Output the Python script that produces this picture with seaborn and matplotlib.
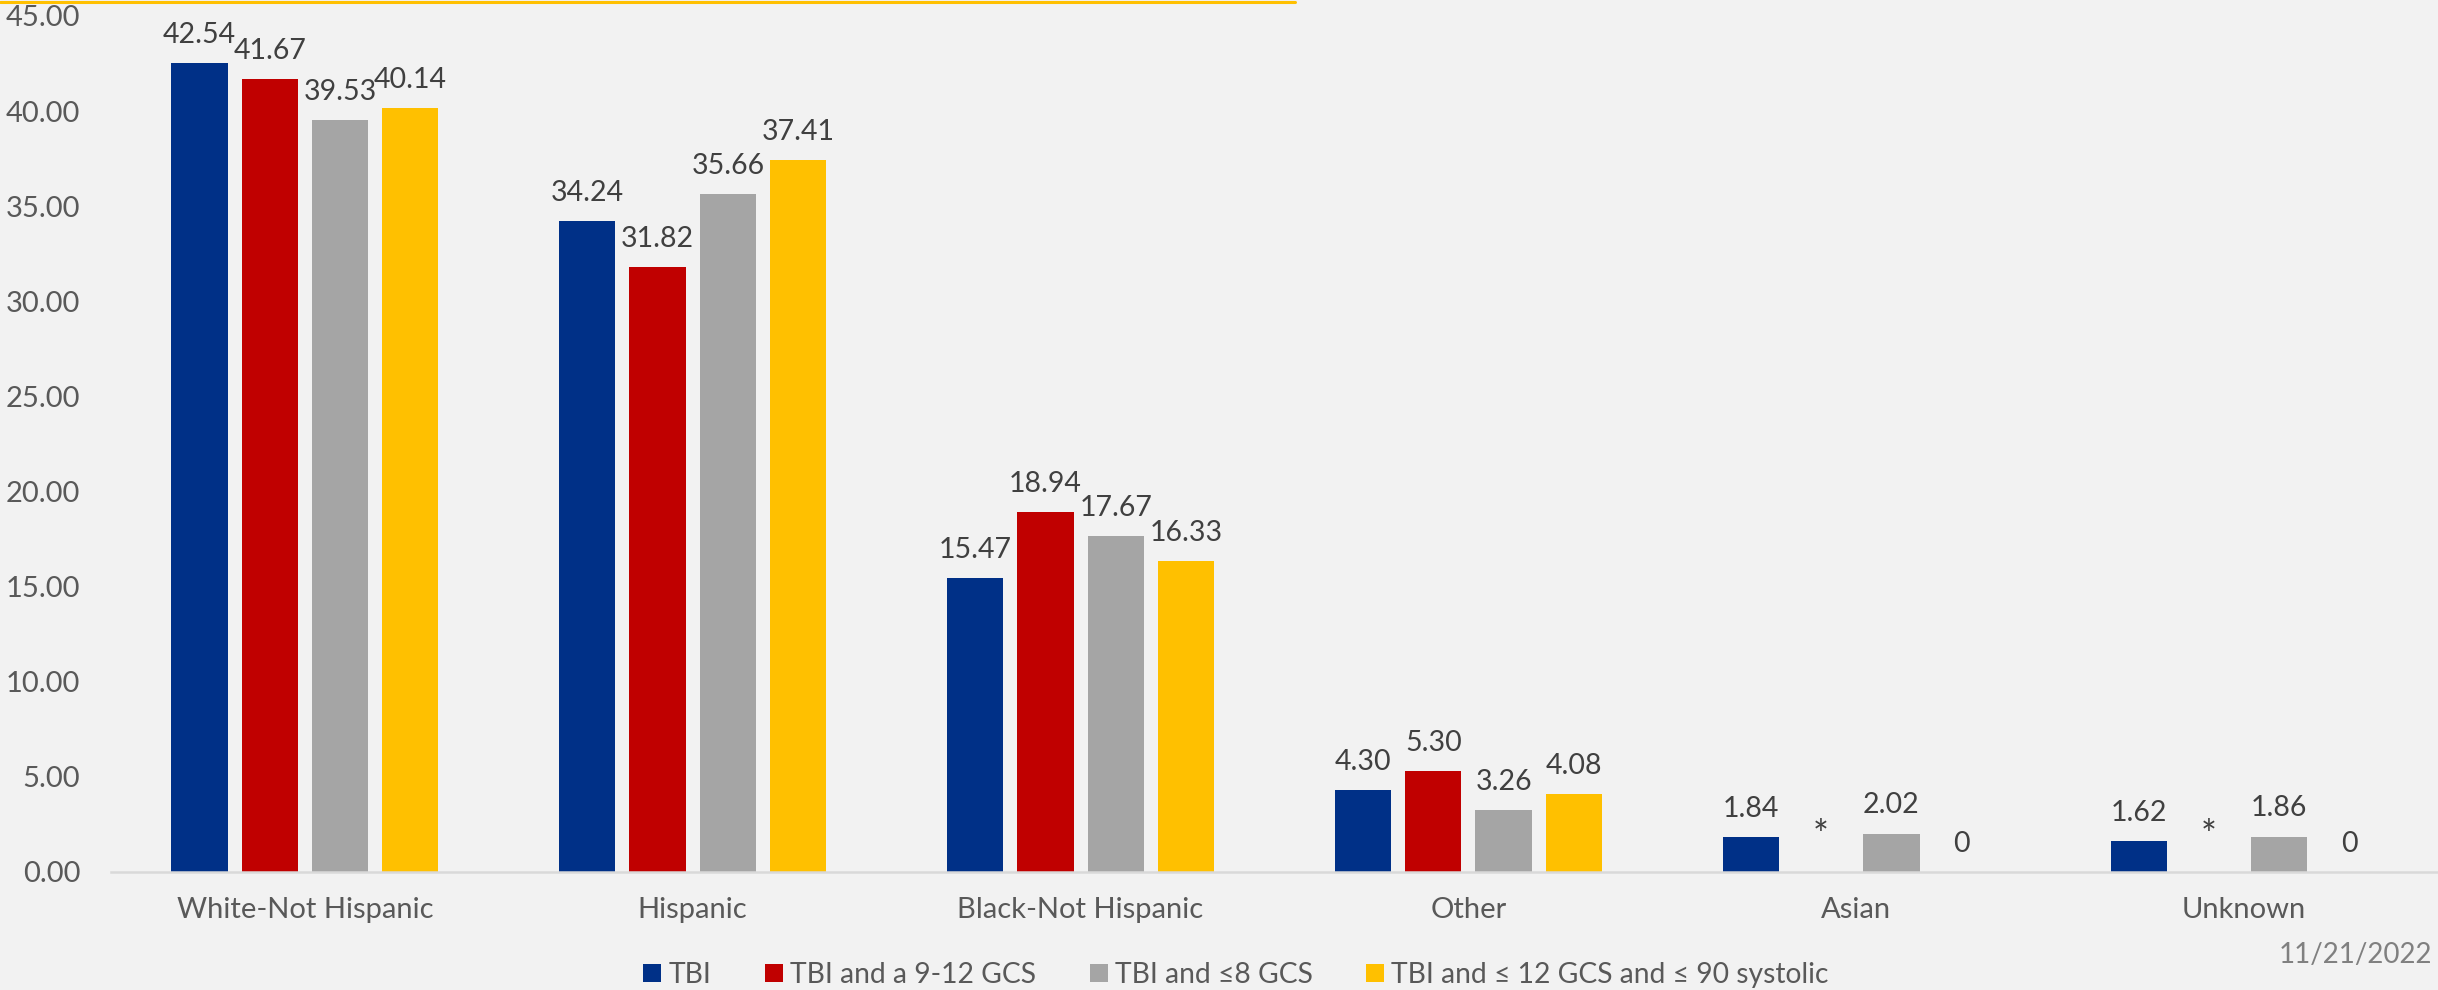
import matplotlib
matplotlib.use('Agg')
import matplotlib.pyplot as plt
from matplotlib.ticker import FormatStrFormatter, MultipleLocator
from matplotlib.lines import Line2D
import seaborn as sns
import pandas as pd

groups = ['White-Not Hispanic', 'Hispanic', 'Black-Not Hispanic', 'Other', 'Asian', 'Unknown']
series = ['TBI', 'TBI and a 9-12 GCS', 'TBI and \u22648 GCS', 'TBI and \u2264 12 GCS and \u2264 90 systolic']
tbi = [42.54, 34.24, 15.47, 4.30, 1.84, 1.62]
tbi_gcs_9_12 = [41.67, 31.82, 18.94, 5.30, None, None]  # suppressed -> "*"
tbi_gcs_8 = [39.53, 35.66, 17.67, 3.26, 2.02, 1.86]
tbi_gcs_sys = [40.14, 37.41, 16.33, 4.08, 0, 0]
colors = ['#003087', '#C00000', '#A5A5A5', '#FFC000']
date_text = '11/21/2022'

bg = '#F2F2F2'
sns.set_style('white', {'axes.facecolor': bg, 'figure.facecolor': bg})
plt.rcParams['font.family'] = ['Lato', 'DejaVu Sans']

rows = []
for name, vals in zip(series, [tbi, tbi_gcs_9_12, tbi_gcs_8, tbi_gcs_sys]):
    for g, v in zip(groups, vals):
        rows.append({'group': g, 'series': name, 'value': 0 if v is None else v,
                     'label': '*' if v is None else ('0' if v == 0 else '%.2f' % v)})
df = pd.DataFrame(rows)

fig = plt.figure(figsize=(24.38, 9.9), dpi=100)
ax = fig.add_axes([111 / 2438, 1 - 872 / 990, 1 - 111 / 2438, (872 - 16) / 990])

sns.barplot(data=df, x='group', y='value', hue='series', order=groups, hue_order=series,
            palette=colors, saturation=1, width=0.725, gap=0.2, linewidth=0,
            errorbar=None, ax=ax)

# data labels
for cont, name in zip(ax.containers, series):
    labs = df[df['series'] == name]['label'].tolist()
    for bar, lab in zip(cont.patches, labs):
        ax.annotate(lab, (bar.get_x() + bar.get_width() / 2, bar.get_height()),
                    xytext=(0, 14.5 if lab != '*' else 17), textcoords='offset points',
                    ha='center', va='baseline',
                    fontsize=20.5 if lab != '*' else 27, color='#404040')

ax.set_ylim(0, 45)
ax.set_xlim(-0.5, len(groups) - 0.5)
ax.yaxis.set_major_locator(MultipleLocator(5))
ax.yaxis.set_major_formatter(FormatStrFormatter('%.2f'))
ax.set_xlabel('')
ax.set_ylabel('')
ax.tick_params(axis='both', length=0, labelsize=21, labelcolor='#595959')
ax.tick_params(axis='y', pad=22)
ax.tick_params(axis='x', pad=18)
for s in ['top', 'right', 'left']:
    ax.spines[s].set_visible(False)
ax.spines['bottom'].set_color('#D9D9D9')
ax.spines['bottom'].set_linewidth(1.8)

handles, labels = ax.get_legend_handles_labels()
ax.get_legend().remove()
fig.legend(handles, labels, loc='center', bbox_to_anchor=(1236 / 2438, 1 - 975 / 990), ncol=4,
           frameon=False, fontsize=20.3, labelcolor='#595959', handlelength=0.64, handleheight=0.64,
           handletextpad=0.25, columnspacing=1.9, borderpad=0)

fig.text(2432 / 2438, 1 - 955 / 990, date_text, ha='right', va='center', fontsize=20, color='#808080')

fig.add_artist(Line2D([0, 1295 / 2438], [1 - 1.5 / 990, 1 - 1.5 / 990], color='#FFC000', linewidth=2.2))

fig.savefig('out.png', dpi=100, facecolor=bg)
